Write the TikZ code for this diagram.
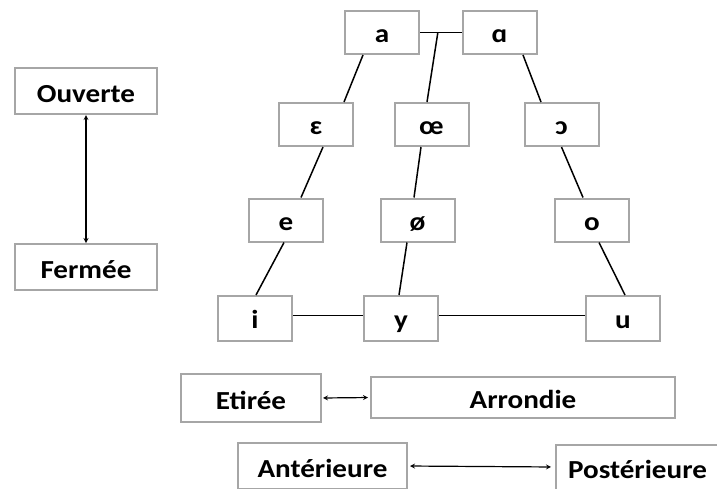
\documentclass[tikz,border=0pt]{standalone}
\usepackage{fontspec}
\setmainfont{Carlito}[FakeStretch=1.12]
\usetikzlibrary{arrows, positioning, calc}
\definecolor{boxgray}{RGB}{166,166,166}

\begin{document}
\begin{tikzpicture}[
    x=1pt, y=-1pt,
    vowel/.style={rectangle, draw=boxgray, line width=2pt, fill=white, minimum width=74pt, minimum height=43pt, inner sep=0pt, text height=20pt, text depth=0pt, font=\fontsize{26}{30}\selectfont\bfseries},
    axis/.style={rectangle, draw=boxgray, line width=2pt, fill=white, minimum height=46pt, inner sep=0pt, text height=22pt, text depth=0pt, font=\fontsize{26}{30}\selectfont\bfseries},
    link/.style={line width=1.5pt},
    arrow/.style={<->, >=stealth, line width=1.2pt}
]
    \useasboundingbox (0,0) rectangle (717,488);
    \clip (0,0) rectangle (717,488);

    % Aperture
    \node[axis, minimum width=142pt] (ouverte) at (86,91) {Ouverte};
    \node[axis, minimum width=142pt] (fermee) at (86,267) {Fermée};
    \draw[arrow] (ouverte.south) -- (fermee.north);

    % Open vowels
    \node[vowel] (a) at (382,32.5) {a};
    \node[vowel] (alpha) at (499.5,32.5) {ɑ};

    % Open-mid vowels
    \node[vowel] (epsilon) at (316,124.5) {ɛ};
    \node[vowel] (oe) at (431.5,124.5) {œ};
    \node[vowel] (openo) at (561.5,124.5) {ɔ};

    % Close-mid vowels
    \node[vowel] (e) at (286,220) {e};
    \node[vowel] (oslash) at (417.5,220) {ø};
    \node[vowel] (o) at (592,220) {o};

    % Close vowels
    \node[vowel, minimum height=45pt] (i) at (255,318.5) {i};
    \node[vowel, minimum height=45pt] (y) at (401,318.5) {y};
    \node[vowel, minimum height=45pt] (u) at (623,318.5) {u};

    % Links
    \coordinate (top) at ($(a.east)!0.43!(alpha.west)$);
    \draw[link] (a.east) -- (alpha.west);
    \draw[link] (top) -- ([xshift=-4.5pt]oe.north);
    \draw[link] ([xshift=-19pt]a.south) -- ([xshift=28pt]epsilon.north);
    \draw[link] ([xshift=23.5pt]alpha.south) -- ([xshift=-20.5pt]openo.north);
    \draw[link] ([xshift=7pt]epsilon.south) -- ([xshift=15pt]e.north);
    \draw[link] ([xshift=-10.5pt]oe.south) -- ([xshift=-3.5pt]oslash.north);
    \draw[link] (openo.south) -- ([xshift=-9pt]o.north);
    \draw[link] ([xshift=-2pt]e.south) -- ([xshift=1pt]i.north);
    \draw[link] ([xshift=-10.5pt]oslash.south) -- ([xshift=-2pt]y.north);
    \draw[link] ([xshift=7pt]o.south) -- ([xshift=2pt]u.north);
    \draw[link] ([yshift=3pt]i.east) -- ([yshift=3pt]y.west);
    \draw[link] ([yshift=3pt]y.east) -- ([yshift=3pt]u.west);

    % Rounding
    \node[axis, minimum width=140pt, minimum height=48pt] (etiree) at (251,398) {Etirée};
    \node[axis, minimum width=304pt, minimum height=41pt] (arrondie) at (523,397.5) {Arrondie};
    \draw[arrow, shorten <=1pt, shorten >=2pt] (etiree.east) -- (arrondie.west);

    % Backness
    \node[axis, minimum width=169pt] (anterieure) at (322.5,466) {Antérieure};
    \node[axis, minimum width=163pt, minimum height=45pt] (posterieure) at (637.5,467) {Postérieure};
    \draw[arrow, shorten <=2pt, shorten >=4pt] (anterieure.east) -- (posterieure.west);
\end{tikzpicture}
\end{document}
